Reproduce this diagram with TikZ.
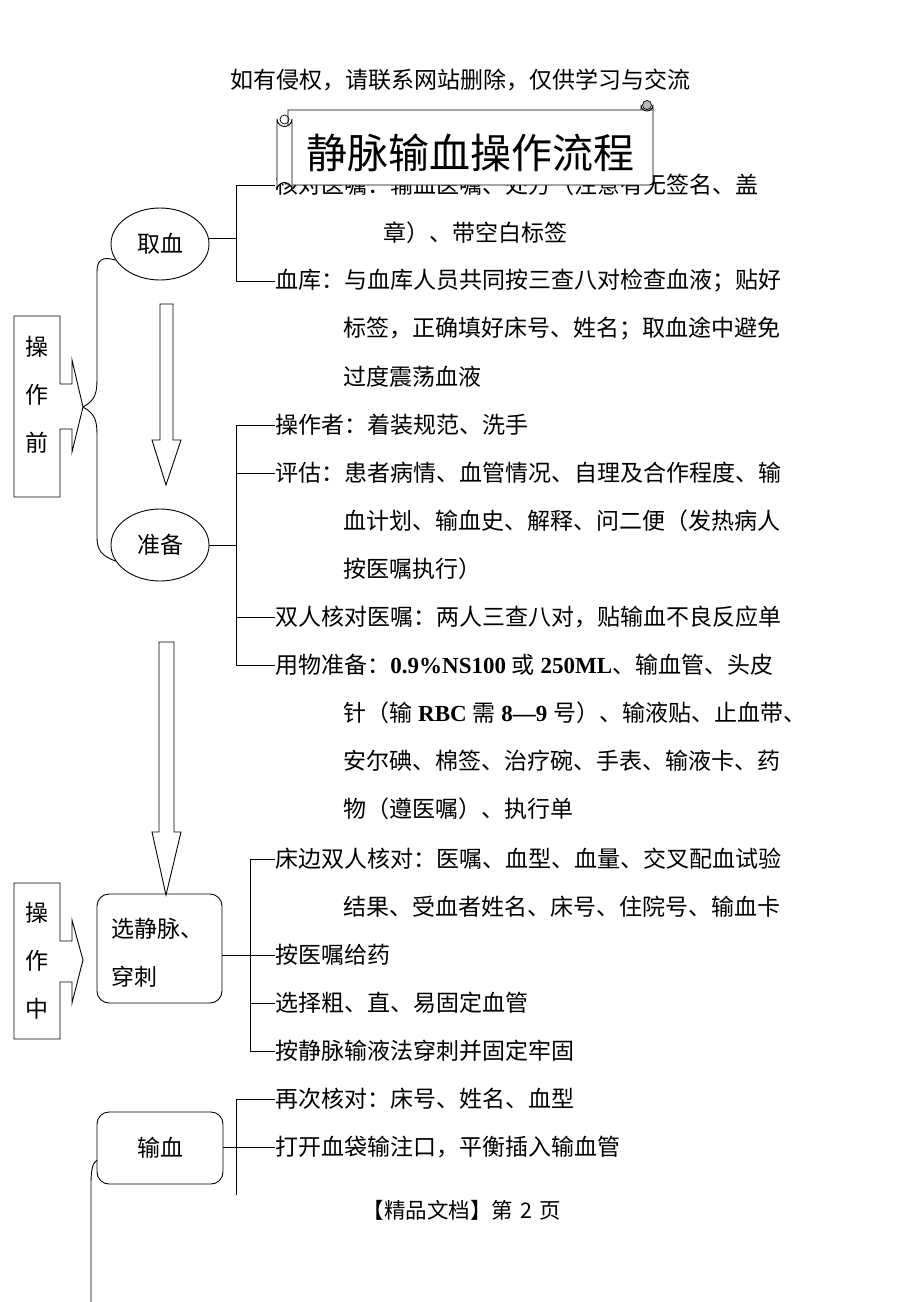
\documentclass[tikz,border=0pt]{standalone}
\usepackage{fontspec}
\setmainfont{Noto Sans CJK SC}
\newfontfamily\tnr{Liberation Serif}
\usetikzlibrary{shapes.geometric,calc}
\begin{document}
\begin{tikzpicture}[x=1pt,y=-1pt,line width=0.9pt,
  txt/.style={anchor=west,inner sep=0pt,font=\fontsize{23}{23}\selectfont},
  lbl/.style={inner sep=0pt,font=\fontsize{23}{23}\selectfont},
  oval/.style={draw,ellipse,inner sep=0pt,minimum width=98pt,minimum height=72pt,font=\fontsize{23}{23}\selectfont},
  rbox/.style={draw,rounded corners=12pt,inner sep=0pt,font=\fontsize{23}{23}\selectfont},
  conn/.style={line width=0.9pt},
  blockarrow/.style={draw,fill=white,line width=0.9pt},
  callout/.style={draw,line width=0.9pt}]
\useasboundingbox (0,0) rectangle (920,1302);

% header and footer
\node[lbl] (hdr) at (460,80) {如有侵权，请联系网站删除，仅供学习与交流};
\node[lbl,font=\fontsize{21.5}{21.5}\selectfont] (ftr) at (462,1210) {【精品文档】第\,\,2\,\,页};

% right-side texts
\node[txt] (t1) at (275,185) {核对医嘱：输血医嘱、处方（注意有无签名、盖};
\node[txt] (t2) at (383,233) {章）、带空白标签};
\node[txt] (t3) at (275,281) {血库：与血库人员共同按三查八对检查血液；贴好};
\node[txt] (t4) at (343,329) {标签，正确填好床号、姓名；取血途中避免};
\node[txt] (t5) at (343,377) {过度震荡血液};
\node[txt] (t6) at (275,425) {操作者：着装规范、洗手};
\node[txt] (t7) at (275,473) {评估：患者病情、血管情况、自理及合作程度、输};
\node[txt] (t8) at (343,521) {血计划、输血史、解释、问二便（发热病人};
\node[txt] (t9) at (343,569) {按医嘱执行）};
\node[txt] (t10) at (275,617) {双人核对医嘱：两人三查八对，贴输血不良反应单};
\node[txt] (t11) at (275,665) {用物准备：{\tnr\bfseries 0.9\%NS100 }或{\tnr\bfseries\ 250ML}、输血管、头皮};
\node[txt] (t12) at (343,713) {针（输{\tnr\bfseries\ RBC }需{\tnr\bfseries\ 8—9 }号）、输液贴、止血带、};
\node[txt] (t13) at (343,761) {安尔碘、棉签、治疗碗、手表、输液卡、药};
\node[txt] (t14) at (343,809) {物（遵医嘱）、执行单};
\node[txt] (t15) at (275,859) {床边双人核对：医嘱、血型、血量、交叉配血试验};
\node[txt] (t16) at (343,907) {结果、受血者姓名、床号、住院号、输血卡};
\node[txt] (t17) at (275,955) {按医嘱给药};
\node[txt] (t18) at (275,1003) {选择粗、直、易固定血管};
\node[txt] (t19) at (275,1051) {按静脉输液法穿刺并固定牢固};
\node[txt] (t20) at (275,1099) {再次核对：床号、姓名、血型};
\node[txt] (t21) at (275,1147) {打开血袋输注口，平衡插入输血管};

% spine coordinates
\coordinate (s1) at (236,0);
\coordinate (s2) at (250,0);

% left stage nodes
\node[oval] (qx) at (160,244) {取血};
\node[oval] (zb) at (160,545) {准备};
\node[rbox,minimum width=125pt,minimum height=109pt] (xj) at (159.5,948.5) {};
\node[txt] (xj1) at (111,929) {选静脉、};
\node[txt] (xj2) at (111,977) {穿刺};
\node[rbox,minimum width=126pt,minimum height=72pt] (sx) at (160,1148) {输血};

% stage boxes with arrow notch
\draw[callout] (14,316) -- (60,316) -- (60,384) -- (72,384) -- (72,360) -- (83,407) -- (72,452) -- (72,429) -- (60,429) -- (60,497) -- (14,497) -- cycle;
\coordinate (tip1) at (83,407);
\node[txt,anchor=center] (b1a) at (37,347) {操};
\node[txt,anchor=center] (b1b) at (37,395) {作};
\node[txt,anchor=center] (b1c) at (37,443) {前};

\draw[callout] (14,883) -- (60,883) -- (60,941) -- (72,941) -- (72,920) -- (83,960) -- (72,1003) -- (72,982) -- (60,982) -- (60,1039) -- (14,1039) -- cycle;
\node[txt,anchor=center] (b2a) at (37,913) {操};
\node[txt,anchor=center] (b2b) at (37,961) {作};
\node[txt,anchor=center] (b2c) at (37,1009) {中};

% brace from 操作前
\draw[conn] (tip1) .. controls (96,400) and (97,392) .. (97,378) -- (97,272) .. controls (97,260) and (102,256) .. (qx.200);
\draw[conn] (tip1) .. controls (96,414) and (97,422) .. (97,436) -- (97,538) .. controls (97,550) and (102,556) .. (zb.200);

% brace from 输血 going down
\coordinate (sxl) at (97,1160);
\coordinate (sxend) at (91,1302);
\draw[conn] (sxl) .. controls (92,1163) and (91,1172) .. (91,1185) -- (sxend);

% connectors 取血
\draw[conn] (qx.east |- 0,238) -- (s1 |- 0,238);
\draw[conn] (t1.west) -- (t1.west -| s1) -- (t3.west -| s1) -- (t3.west);

% connectors 准备
\draw[conn] (zb.east) -- (zb.east -| s1);
\draw[conn] (t6.west) -- (t6.west -| s1) -- (t11.west -| s1) -- (t11.west);
\draw[conn] (t7.west -| s1) -- (t7.west);
\draw[conn] (t10.west -| s1) -- (t10.west);

% connectors 选静脉
\draw[conn] (xj.east |- t17.west) -- (t17.west);
\draw[conn] (t15.west) -- (t15.west -| s2) -- (t19.west -| s2) -- (t19.west);
\draw[conn] (t18.west -| s2) -- (t18.west);

% connectors 输血
\coordinate (s3end) at (236,1195);
\draw[conn] (sx.east |- t21.west) -- (t21.west);
\draw[conn] (t20.west) -- (t20.west -| s1) -- (s3end);

% block arrows
\draw[blockarrow] (160,304) -- (173,304) -- (173,440) -- (181,440) -- (166,485) -- (152,440) -- (160,440) -- cycle;
\draw[blockarrow] (159,642) -- (174,642) -- (174,832) -- (181,832) -- (166,895) -- (152,832) -- (159,832) -- cycle;

% title scroll (drawn over the first line)
\draw[fill=white,line width=0.9pt] (288,110) -- (653,110) -- (653,180) .. controls (653,184) .. (649,185) -- (288,185) -- cycle;
\draw[fill=white,line width=0.9pt] (641,110) -- (641,105) arc (180:0:6) -- (653,110);
\draw[fill=gray!55,line width=0.7pt] (647,105) circle (4.5);
\draw[fill=white,line width=0.9pt] (277,119) -- (277,190) arc (180:360:7.5) -- (292,119) arc (0:180:7.5) -- cycle;
\draw[line width=0.7pt] (284.5,119.5) circle (4.5);
\node[inner sep=0pt,font=\fontsize{41}{41}\selectfont] (title) at (470,153) {静脉输血操作流程};
\end{tikzpicture}
\end{document}
